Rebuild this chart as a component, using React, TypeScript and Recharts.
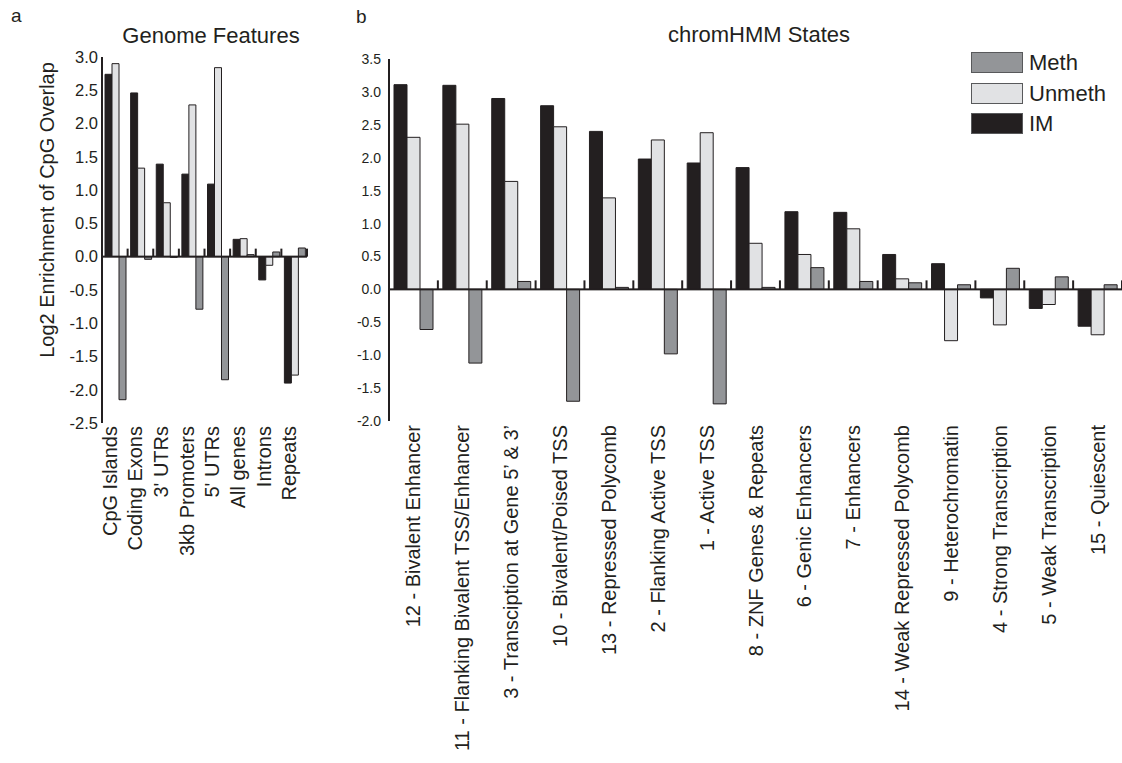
import React from "react";
import { BarChart, Bar, XAxis, YAxis, ReferenceLine, Legend } from "recharts";

const FONT = "'Liberation Sans', Arial, Helvetica, sans-serif";
const INK = "#231f20";

const IM_COLOR = "#231f20";
const UNMETH_COLOR = "#e1e2e4";
const METH_COLOR = "#939598";

// a - Genome Features
const featureNames = ["CpG Islands", "Coding Exons", "3' UTRs", "3kb Promoters", "5' UTRs", "All genes", "Introns", "Repeats"];
const featureIM = [2.74, 2.46, 1.39, 1.24, 1.09, 0.26, -0.35, -1.9];
const featureUnmeth = [2.9, 1.33, 0.81, 2.28, 2.84, 0.27, -0.13, -1.78];
const featureMeth = [-2.15, -0.04, -0.01, -0.79, -1.85, 0.03, 0.07, 0.13];
const featureTicks = [-2.5, -2, -1.5, -1, -0.5, 0, 0.5, 1, 1.5, 2, 2.5, 3];

// b - chromHMM States
const stateNames = [
  "12 - Bivalent Enhancer",
  "11 - Flanking Bivalent TSS/Enhancer",
  "3 - Transciption at Gene 5\u2019 & 3\u2019",
  "10 - Bivalent/Poised TSS",
  "13 - Repressed Polycomb",
  "2 - Flanking Active TSS",
  "1 - Active TSS",
  "8 - ZNF Genes & Repeats",
  "6 - Genic Enhancers",
  "7 - Enhancers",
  "14 - Weak Repressed Polycomb",
  "9 - Heterochromatin",
  "4 - Strong Transcription",
  "5 - Weak Transcription",
  "15 - Quiescent",
];
const stateIM = [3.11, 3.1, 2.9, 2.79, 2.4, 1.98, 1.92, 1.85, 1.18, 1.17, 0.53, 0.39, -0.13, -0.29, -0.56];
const stateUnmeth = [2.31, 2.51, 1.64, 2.47, 1.39, 2.27, 2.38, 0.7, 0.53, 0.92, 0.16, -0.78, -0.54, -0.23, -0.69];
const stateMeth = [-0.61, -1.12, 0.12, -1.7, 0.03, -0.98, -1.74, 0.03, 0.33, 0.12, 0.1, 0.07, 0.32, 0.19, 0.07];
const stateTicks = [-2, -1.5, -1, -0.5, 0, 0.5, 1, 1.5, 2, 2.5, 3, 3.5];

const legendItems = [
  { name: "Meth", color: METH_COLOR },
  { name: "Unmeth", color: UNMETH_COLOR },
  { name: "IM", color: IM_COLOR },
];

const featureData = featureNames.map((name, i) => ({
  name,
  im: featureIM[i],
  unmeth: featureUnmeth[i],
  meth: featureMeth[i],
}));

const stateData = stateNames.map((name, i) => ({
  name,
  im: stateIM[i],
  unmeth: stateUnmeth[i],
  meth: stateMeth[i],
}));

// zero line with small upward ticks at each group boundary
function zeroLine(count: number, tickH: number) {
  return (props: any) => {
    const x1 = Number(props.x1);
    const x2 = Number(props.x2);
    const y = Number(props.y1);
    const step = (x2 - x1) / count;
    const marks = [];
    for (let i = 1; i <= count; i++) {
      const tx = x1 + step * i;
      marks.push(<rect key={i} x={tx - 1} y={y - tickH} width={2} height={tickH} fill={INK} />);
    }
    return (
      <g>
        <rect x={x1} y={y - 1} width={x2 - x1} height={2} fill={INK} />
        {marks}
      </g>
    );
  };
}

function RotatedTick(props: any) {
  const { x, y, payload, shift } = props;
  return (
    <text
      transform={`translate(${Number(x) + shift},${y}) rotate(-90)`}
      textAnchor="end"
      dy="0.35em"
      fontSize={20}
      fontFamily={FONT}
      fill={INK}
    >
      {payload.value}
    </text>
  );
}

const renderLegend = () => (
  <div style={{ fontFamily: FONT, fontSize: 22, color: INK }}>
    {legendItems.map((item) => (
      <div key={item.name} style={{ display: "flex", alignItems: "center", height: 21, marginBottom: 9.7 }}>
        <div style={{ width: 50, height: 19, background: item.color, border: "1px solid #58595b" }} />
        <span style={{ marginLeft: 6, lineHeight: "21px" }}>{item.name}</span>
      </div>
    ))}
  </div>
);

const fmt = (v: number) => v.toFixed(1);

function GenomeFeatures() {
  return (
    <BarChart
      width={320}
      height={763}
      data={featureData}
      margin={{ top: 57, right: 13, bottom: 0, left: 0 }}
      barCategoryGap={3}
      barGap={0}
    >
      <XAxis
        dataKey="name"
        interval={0}
        axisLine={false}
        tickLine={false}
        tickSize={0}
        tickMargin={3}
        height={340}
        tick={<RotatedTick shift={-5} />}
      />
      <YAxis
        domain={[-2.5, 3]}
        ticks={featureTicks}
        interval={0}
        width={102}
        tickFormatter={fmt}
        axisLine={{ stroke: INK, strokeWidth: 2 }}
        tickLine={false}
        tickSize={0}
        tickMargin={4}
        tick={{ fontSize: 16.5, fill: INK, fontFamily: FONT }}
        label={(p: any) => {
          const vb = p.viewBox;
          return (
            <text
              transform={`translate(${vb.x + 54},${vb.y + vb.height / 2 - 30}) rotate(-90)`}
              textAnchor="middle"
              fontSize={20}
              fontFamily={FONT}
              fill={INK}
            >
              Log2 Enrichment of CpG Overlap
            </text>
          );
        }}
      />
      <Bar dataKey="im" name="IM" fill={IM_COLOR} stroke={INK} strokeWidth={1} isAnimationActive={false} />
      <Bar dataKey="unmeth" name="Unmeth" fill={UNMETH_COLOR} stroke={INK} strokeWidth={1} isAnimationActive={false} />
      <Bar dataKey="meth" name="Meth" fill={METH_COLOR} stroke={INK} strokeWidth={1} isAnimationActive={false} />
      <ReferenceLine y={0} shape={zeroLine(featureNames.length, 8)} />
    </BarChart>
  );
}

function ChromStates() {
  return (
    <BarChart
      width={792}
      height={763}
      data={stateData}
      margin={{ top: 59, right: 0, bottom: 0, left: 0 }}
      barCategoryGap={5}
      barGap={0}
    >
      <XAxis
        dataKey="name"
        interval={0}
        axisLine={false}
        tickLine={false}
        tickSize={0}
        tickMargin={4}
        height={342}
        tick={<RotatedTick shift={0} />}
      />
      <YAxis
        domain={[-2, 3.5]}
        ticks={stateTicks}
        interval={0}
        width={59}
        tickFormatter={fmt}
        axisLine={{ stroke: INK, strokeWidth: 2 }}
        tickLine={false}
        tickSize={0}
        tickMargin={8}
        tick={{ fontSize: 14, fill: INK, fontFamily: FONT }}
      />
      <Legend
        layout="vertical"
        align="center"
        verticalAlign="middle"
        content={renderLegend}
        wrapperStyle={{ left: 641, top: 52, width: 150 }}
      />
      <Bar dataKey="im" name="IM" fill={IM_COLOR} stroke={INK} strokeWidth={1} isAnimationActive={false} />
      <Bar dataKey="unmeth" name="Unmeth" fill={UNMETH_COLOR} stroke={INK} strokeWidth={1} isAnimationActive={false} />
      <Bar dataKey="meth" name="Meth" fill={METH_COLOR} stroke={INK} strokeWidth={1} isAnimationActive={false} />
      <ReferenceLine y={0} shape={zeroLine(stateNames.length, 9)} />
    </BarChart>
  );
}

export default function App() {
  return (
    <div style={{ position: "absolute", left: 0, top: 0, width: 1122, height: 763, background: "#fff", overflow: "hidden" }}>
      <div style={{ position: "absolute", left: 0, top: 0 }}>
        <GenomeFeatures />
      </div>
      <div style={{ position: "absolute", left: 330, top: 0 }}>
        <ChromStates />
      </div>
      <svg width={1122} height={763} style={{ position: "absolute", left: 0, top: 0, pointerEvents: "none" }}>
        <g fontFamily={FONT} fill={INK}>
          <text x={11} y={22} fontSize={19}>a</text>
          <text x={356} y={23} fontSize={19}>b</text>
          <text x={211} y={43} fontSize={22} textAnchor="middle">Genome Features</text>
          <text x={759} y={42} fontSize={22} textAnchor="middle">chromHMM States</text>
        </g>
      </svg>
    </div>
  );
}
